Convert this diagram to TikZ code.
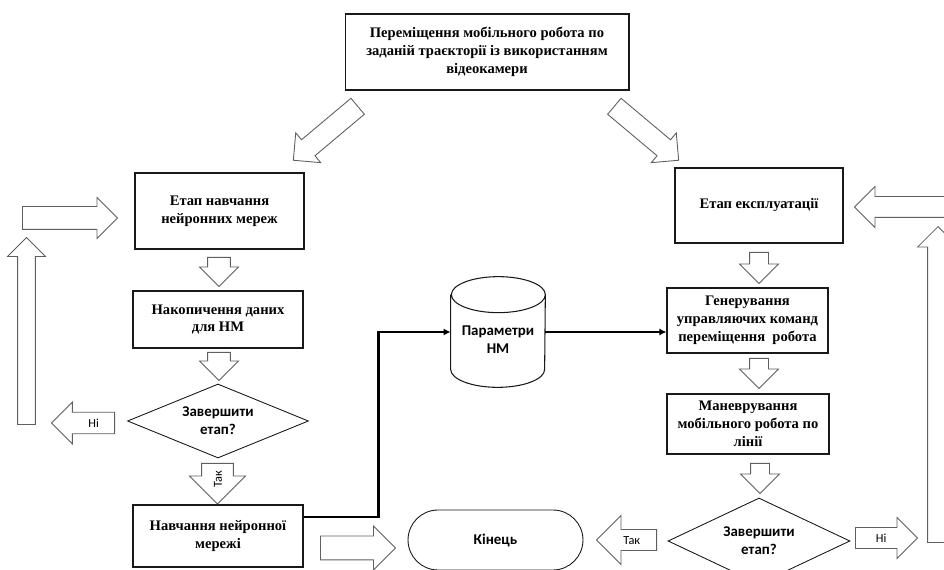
\documentclass[tikz,border=0pt]{standalone}
\usepackage{fontspec}
\setmainfont{Liberation Serif}
\newfontfamily\calibri{Carlito}
\usetikzlibrary{shapes.geometric, shapes.arrows, arrows.meta, positioning}
\definecolor{mydark}{RGB}{25,25,25}
\definecolor{mygray}{RGB}{95,95,95}
\tikzset{
  block/.style={rectangle, draw=mydark, fill=white, align=center,
    inner sep=2pt, font=\fontsize{8.3}{10.2}\selectfont\bfseries, line width=0.6pt},
  decision/.style={diamond, draw=mydark, fill=white, align=center, inner sep=0pt,
    font=\calibri\fontsize{8.5}{10.2}\selectfont\bfseries, line width=0.5pt},
  terminal/.style={rectangle, draw=mydark, rounded corners=0.6cm, align=center,
    minimum width=3.5cm, minimum height=1.2cm,
    font=\calibri\fontsize{8.5}{10.2}\selectfont\bfseries, line width=0.5pt},
  fatarrow/.style={single arrow, draw=mygray, fill=white, inner xsep=0pt, inner ysep=0.2cm,
    anchor=tail, single arrow head extend=#1, font=\calibri\fontsize{7}{8}\selectfont,
    line width=0.5pt},
  fatarrow/.default=0.2cm,
  labelled/.style={text height=5pt, text depth=0pt, inner ysep=#1},
  thickline/.style={-{Latex[length=4pt,width=4pt]}, line width=1.7pt, color=black},
  thinline/.style={-{Latex[length=4pt,width=4pt]}, line width=1.1pt, color=black}
}
\begin{document}
\begin{tikzpicture}[x=0.02cm, y=-0.02cm]
  \useasboundingbox (0,0) rectangle (944,570);
  \clip (0,0) rectangle (944,570);

  % Main task
  \node[block, minimum width=5.68cm, minimum height=1.52cm] (task) at (487,52)
    {Переміщення мобільного робота по\\заданій траєкторії із використанням\\відеокамери};
  \node[fatarrow=0.18cm, rotate=220, minimum height=1.68cm] (toleft) at (358,106) {};
  \node[fatarrow=0.18cm, rotate=-40, minimum height=1.68cm] (toright) at (614,106) {};

  % Training stage (Left side)
  \node[block, minimum width=3.38cm, minimum height=1.52cm] (train) at (219.5,211) {Етап навчання\\нейронних мереж};
  \node[block, minimum width=3.4cm, minimum height=1.14cm] (collect) at (218,319.5) {Накопичення даних\\для НМ};
  \node[decision, aspect=2.45, minimum width=3.62cm, minimum height=1.48cm] (done1) at (218,421) {Завершити\\етап?};
  \node[block, minimum width=3.4cm, minimum height=1.24cm] (learn) at (218,536) {Навчання нейронної\\мережі};

  \node[fatarrow=0.16cm, inner ysep=0.22cm, rotate=-90, minimum height=0.58cm] (d1) at (219,257) {};
  \node[fatarrow=0.16cm, inner ysep=0.22cm, rotate=-90, minimum height=0.56cm] (d2) at (219,352) {};
  \node[fatarrow=0.24cm, labelled=6.3pt, rotate=90, shape border rotate=180, minimum height=0.72cm] (yes1) at (217.5,463) {Так\hspace*{4pt}};
  \node[fatarrow=0.2cm, labelled=3.4pt, shape border rotate=180, minimum height=1.26cm] (no1) at (115,423) {\hspace*{6pt}Ні};
  \node[fatarrow=0.2cm, inner ysep=0.17cm, rotate=90, minimum height=3.74cm] (back1) at (26.5,425) {};
  \node[fatarrow=0.18cm, inner ysep=0.22cm, minimum height=1.9cm] (loop1) at (22,218) {};

  % NN parameters
  \node[inner sep=0pt, minimum width=1.88cm, minimum height=2.2cm,
    font=\calibri\fontsize{8.5}{10.2}\selectfont\bfseries, align=center] (params) at (498,332) {\\[4pt]Параметри\\НМ};
  \draw[line width=0.6pt, draw=mydark]
    ([yshift=-0.36cm]params.north west) -- ([yshift=0.36cm]params.south west)
    arc[start angle=180, end angle=360, x radius=0.94cm, y radius=0.36cm]
    -- ([yshift=-0.36cm]params.north east)
    arc[start angle=0, end angle=180, x radius=0.94cm, y radius=0.36cm]
    arc[start angle=180, end angle=360, x radius=0.94cm, y radius=0.36cm];

  % Operation stage (Right side)
  \node[block, minimum width=3.36cm, minimum height=1.5cm] (work) at (759,205.5) {Етап експлуатації};
  \node[block, minimum width=3.22cm, minimum height=1.3cm] (gen) at (747.5,320.5)
    {Генерування\\управляючих команд\\переміщення\ \ робота};
  \node[block, minimum width=3.24cm, minimum height=1.2cm] (move) at (748,424)
    {Маневрування\\мобільного робота по\\лінії};
  \node[decision, aspect=2.1, minimum width=3.64cm, minimum height=1.72cm] (done2) at (759,541) {Завершити\\етап?};
  \node[terminal] (finish) at (495.5,540) {Кінець};

  \node[fatarrow=0.2cm, inner ysep=0.18cm, rotate=-90, minimum height=0.62cm] (d3) at (759,252) {};
  \node[fatarrow=0.2cm, inner ysep=0.18cm, rotate=-90, minimum height=0.6cm] (d4) at (759,358) {};
  \node[fatarrow=0.2cm, inner ysep=0.18cm, rotate=-90, minimum height=0.6cm] (d5) at (760,463) {};
  \node[fatarrow=0.28cm, labelled=3.2pt, shape border rotate=180, minimum height=1.2cm] (yes2) at (657,540) {Так};
  \node[fatarrow=0.2cm, labelled=3.2pt, minimum height=1.24cm] (no2) at (855,538) {Ні};
  \node[fatarrow=0.2cm, rotate=90, minimum height=6.32cm] (back2) at (938,543) {};
  \node[fatarrow=0.2cm, shape border rotate=180, minimum height=2.4cm] (loop2) at (975,207) {};
  \node[fatarrow=0.2cm, inner ysep=0.23cm, minimum height=1.5cm] (tofinish) at (320,548) {};

  % Connectors
  \draw[thickline] ([yshift=0.38cm]learn.east) -- ++(1.5cm,0) |- (params.west);
  \draw[thinline] (params.east) -- (params.east -| gen.west);
\end{tikzpicture}
\end{document}
